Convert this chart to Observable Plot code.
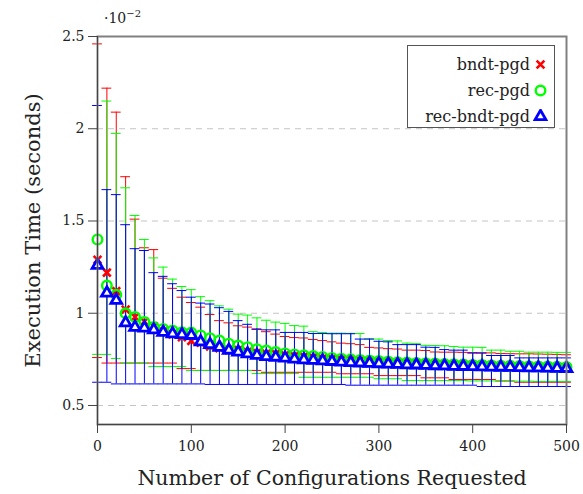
<!DOCTYPE html>
<html><head><meta charset="utf-8">
<script src="https://cdn.jsdelivr.net/npm/d3@7"></script>
<script src="https://cdn.jsdelivr.net/npm/@observablehq/plot@0.6"></script>
<style>
body{margin:0;background:#fff;}
#wrap{position:relative;width:583px;height:494px;font-family:"DejaVu Serif",serif;color:#222;}
#wrap svg{font-family:"DejaVu Serif",serif;}
g[aria-label="x-axis tick label"] text, g[aria-label="y-axis tick label"] text{font-size:14px;fill:#222;}
g[aria-label="x-axis label"] text{font-size:20.5px;fill:#222;}
g[aria-label="y-axis label"] text{font-size:21px;fill:#222;}
#scale{position:absolute;left:104px;top:8px;font-size:14px;}
#scale sup{font-size:10px;}
#legend{position:absolute;left:407px;top:45px;width:146px;height:81px;border:1px solid #555;background:#fff;}
.row{position:absolute;right:0;height:26px;display:flex;align-items:center;font-size:16px;}
.row span{margin-right:3px;}
</style></head><body>
<div id="wrap"></div>
<script>
const configs = [0,10,20,30,40,50,60,70,80,90,100,110,120,130,140,150,160,170,180,190,200,210,220,230,240,250,260,270,280,290,300,310,320,330,340,350,360,370,380,390,400,410,420,430,440,450,460,470,480,490,500];

const bndtMean = [1.29,1.22,1.12,1.02,0.98,0.955,0.93,0.90,0.885,0.87,
0.85,0.84,0.82,0.81,0.80,0.80,0.79,0.785,0.78,0.78,
0.772,0.768,0.765,0.76,0.755,0.752,0.75,0.748,0.745,0.742,
0.738,0.735,0.733,0.731,0.73,0.728,0.727,0.725,0.724,0.723,
0.721,0.72,0.718,0.717,0.716,0.714,0.713,0.712,0.711,0.71,0.709];
const bndtHi = [2.46,2.22,2.09,1.74,1.51,1.355,1.345,1.19,1.135,1.087,
1.058,1.033,0.993,0.96,0.948,0.932,0.925,0.912,0.90,0.887,
0.874,0.868,0.866,0.858,0.852,0.845,0.838,0.835,0.83,0.815,
0.812,0.808,0.806,0.80,0.80,0.798,0.79,0.789,0.789,0.788,
0.787,0.786,0.785,0.782,0.781,0.78,0.78,0.779,0.778,0.777,0.775];
const bndtLo = [0.76,0.73,0.73,0.73,0.73,0.73,0.73,0.73,0.73,0.70,
0.70,0.69,0.69,0.69,0.69,0.69,0.69,0.69,0.68,0.68,
0.68,0.68,0.68,0.68,0.68,0.68,0.672,0.672,0.672,0.672,
0.662,0.662,0.662,0.662,0.662,0.65,0.65,0.65,0.641,0.641,
0.641,0.641,0.641,0.633,0.633,0.626,0.626,0.626,0.626,0.626,0.626];

const recMean = [1.40,1.15,1.10,1.00,0.98,0.952,0.925,0.915,0.906,0.897,
0.895,0.88,0.865,0.852,0.835,0.825,0.816,0.805,0.798,0.79,
0.782,0.777,0.772,0.768,0.763,0.758,0.754,0.75,0.747,0.744,
0.741,0.738,0.735,0.733,0.731,0.729,0.727,0.725,0.723,0.722,
0.72,0.719,0.717,0.716,0.715,0.714,0.713,0.712,0.711,0.71,0.709];
const recHi = [2.50,2.15,1.975,1.68,1.53,1.40,1.30,1.25,1.185,1.145,
1.128,1.09,1.068,1.04,1.022,0.995,0.99,0.975,0.962,0.952,
0.945,0.933,0.93,0.90,0.896,0.892,0.892,0.891,0.89,0.861,
0.86,0.852,0.85,0.838,0.835,0.826,0.825,0.824,0.82,0.816,
0.816,0.815,0.80,0.80,0.794,0.794,0.789,0.789,0.789,0.788,0.788];
const recLo = [0.777,0.777,0.755,0.73,0.73,0.73,0.711,0.711,0.711,0.711,
0.69,0.69,0.69,0.69,0.69,0.69,0.69,0.673,0.673,0.673,
0.673,0.673,0.653,0.653,0.653,0.653,0.653,0.653,0.653,0.653,
0.645,0.645,0.645,0.635,0.635,0.635,0.635,0.635,0.635,0.635,
0.633,0.633,0.633,0.632,0.632,0.632,0.632,0.63,0.63,0.63,0.63];

const recBndtMean = [1.26,1.11,1.07,0.948,0.924,0.92,0.91,0.897,0.889,0.885,
0.88,0.845,0.83,0.816,0.80,0.79,0.78,0.772,0.765,0.762,
0.757,0.752,0.748,0.745,0.742,0.739,0.736,0.733,0.731,0.729,
0.727,0.725,0.723,0.721,0.72,0.718,0.716,0.715,0.713,0.712,
0.711,0.71,0.709,0.708,0.707,0.706,0.705,0.704,0.703,0.702,0.701];
const recBndtHi = [2.126,1.67,1.643,1.48,1.35,1.34,1.22,1.20,1.16,1.123,
1.087,1.055,1.05,1.03,1.01,0.96,0.94,0.915,0.91,0.91,
0.896,0.896,0.896,0.89,0.89,0.889,0.889,0.889,0.86,0.86,
0.848,0.845,0.83,0.83,0.83,0.816,0.815,0.803,0.80,0.80,
0.784,0.784,0.771,0.771,0.771,0.758,0.758,0.758,0.758,0.758,0.758];
const recBndtLo = [0.626,0.626,0.617,0.617,0.617,0.617,0.617,0.617,0.617,0.617,
0.617,0.617,0.614,0.614,0.614,0.614,0.614,0.614,0.614,0.614,
0.614,0.614,0.614,0.614,0.614,0.614,0.614,0.61,0.61,0.61,
0.61,0.61,0.61,0.61,0.61,0.61,0.61,0.61,0.61,0.61,
0.61,0.603,0.603,0.603,0.603,0.603,0.603,0.603,0.603,0.603,0.603];

const xTicks = [0,100,200,300,400,500];
const yTicks = [0.5,1,1.5,2,2.5];
const seriesNames = ["bndt-pgd","rec-pgd","rec-bndt-pgd"];

const series = [
  {name: seriesNames[0], color:"#ff0000", symbol:"times", r:3.6, sw:2.6, fill:"none", mean:bndtMean, lo:bndtLo, hi:bndtHi},
  {name: seriesNames[1], color:"#00ff00", symbol:"circle", r:4.8, sw:2.4, fill:"none", mean:recMean, lo:recLo, hi:recHi},
  {name: seriesNames[2], color:"#0000ff", symbol:"triangle", r:4.0, sw:2.8, fill:"#fff", mean:recBndtMean, lo:recBndtLo, hi:recBndtHi}
];
const capHalf = 5.2; // cap half-width in x units

const marks = [
  Plot.ruleY(yTicks.slice(0,4), {stroke:"#c4c4c4", strokeDasharray:"6,5", strokeWidth:1}),
];
for (const s of series) {
  const rows = configs.map((x,i) => ({x, mean:s.mean[i], lo:s.lo[i], hi:s.hi[i]}));
  marks.push(
    Plot.ruleX(rows, {x:"x", y1:"lo", y2:"hi", stroke:s.color, strokeWidth:1}),
    Plot.ruleY(rows, {y:"hi", x1:d=>d.x-capHalf, x2:d=>d.x+capHalf, stroke:s.color, strokeWidth:1}),
    Plot.ruleY(rows, {y:"lo", x1:d=>d.x-capHalf, x2:d=>d.x+capHalf, stroke:s.color, strokeWidth:1})
  );
}
for (const s of series) {
  const rows = configs.map((x,i) => ({x, mean:s.mean[i]}));
  marks.push(Plot.dot(rows, {x:"x", y:"mean", symbol:s.symbol, r:s.r, stroke:s.color, strokeWidth:s.sw, fill:s.fill}));
}
marks.push(
  Plot.frame({stroke:"#808080", strokeWidth:2}),
  Plot.ruleX([0], {stroke:"#444", strokeWidth:1}),
  Plot.ruleY([0.397], {stroke:"#444", strokeWidth:1}),
  Plot.axisX({ticks:xTicks, tickSize:9, tickPadding:8, tickFormat:d=>String(d), label:"Number of Configurations Requested", labelAnchor:"center", labelOffset:60, labelArrow:"none", stroke:"#444"}),
  Plot.axisY({ticks:yTicks, tickSize:9, tickPadding:4, tickFormat:d=>String(d), label:"Execution Time (seconds)", labelAnchor:"center", labelOffset:72, labelArrow:"none", stroke:"#444"})
);

const chart = Plot.plot({
  width:583, height:494,
  marginLeft:97, marginRight:17, marginTop:36, marginBottom:70,
  x:{domain:[0,500]},
  y:{domain:[0.397,2.5]},
  style:{background:"#fff", overflow:"visible"},
  marks
});
const wrap = document.getElementById("wrap");
wrap.appendChild(chart);

const sc = document.createElement("div");
sc.id = "scale";
sc.innerHTML = "·10<sup>−2</sup>";
wrap.appendChild(sc);

const lg = document.createElement("div");
lg.id = "legend";
const rowsY = [5, 31, 57];
series.forEach((s,i) => {
  const row = document.createElement("div");
  row.className = "row";
  row.style.top = rowsY[i] + "px";
  row.style.right = "6px";
  const sp = document.createElement("span");
  sp.textContent = s.name;
  row.appendChild(sp);
  const sym = d3.create("svg").attr("width",15).attr("height",15);
  const sz = Math.PI*s.r*s.r;
  const symType = {times:d3.symbolTimes, circle:d3.symbolCircle, triangle:d3.symbolTriangle}[s.symbol];
  sym.append("path").attr("transform","translate(7.5,7.5)").attr("d", d3.symbol(symType, sz)())
    .attr("fill", s.fill).attr("stroke", s.color).attr("stroke-width", s.sw);
  row.appendChild(sym.node());
  lg.appendChild(row);
});
wrap.appendChild(lg);
</script>
</body></html>
